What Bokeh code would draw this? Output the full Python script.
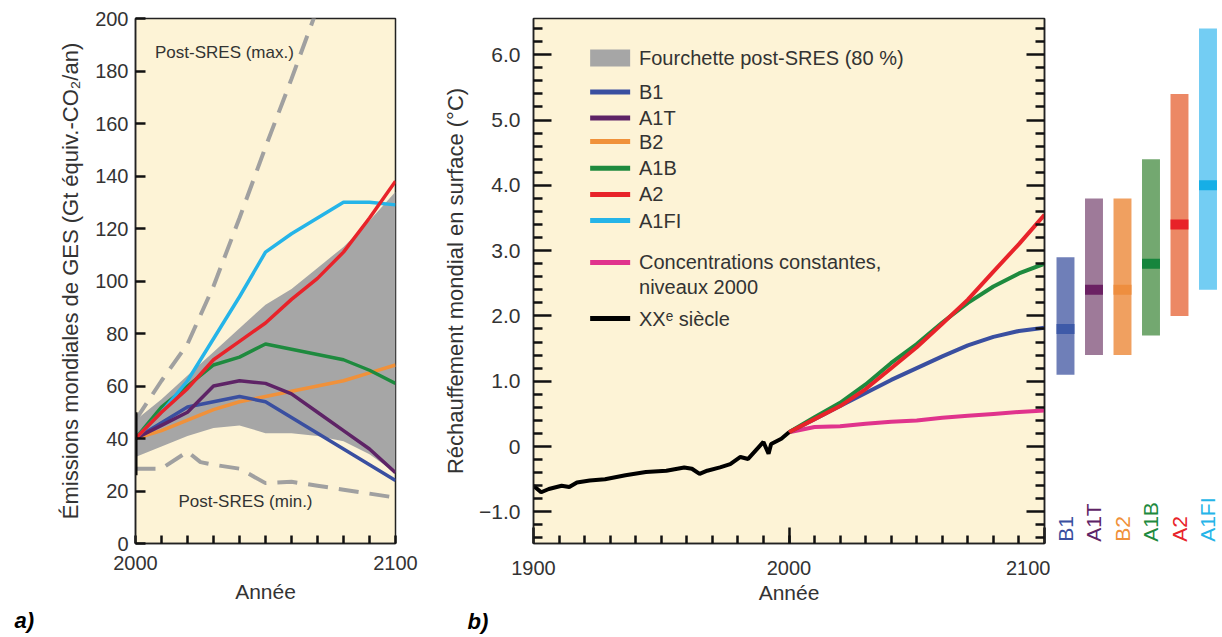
import math
from bokeh.plotting import figure
from bokeh.layouts import row
from bokeh.models import Range1d, FixedTicker, LinearAxis, Title, CustomJSTickFormatter
from bokeh.core.properties import value
from bokeh.embed import file_html
from bokeh.resources import INLINE

CREAM = "#FDF3D6"
FONT = "Liberation Sans"
TXT = "#333333"

# ---------------- panel a: GHG emissions (Gt CO2-eq / yr) ----------------
years_a = [2000, 2010, 2020, 2030, 2040, 2050, 2060, 2070, 2080, 2090, 2100]
emis_b1 = [40, 46, 52, 54, 56, 54, 48, 42, 36, 30, 24]
emis_a1t = [40, 45, 50, 60, 62, 61, 57, 50, 43, 36, 27]
emis_b2 = [40, 43, 47, 51, 54, 56, 58, 60, 62, 65, 68]
emis_a1b = [40, 52, 60, 68, 71, 76, 74, 72, 70, 66, 61]
emis_a2 = [40, 50, 59, 70, 77, 84, 93, 101, 111, 124, 138]
emis_a1fi = [40, 50, 62, 78, 94, 111, 118, 124, 130, 130, 129]
band_lo = [33, 37, 41, 44, 45, 42, 42, 41, 39, 34, 27]
band_hi = [47, 55, 64, 73, 82, 91, 97, 105, 113, 123, 134]

max_years = [2000, 2010, 2020, 2030, 2040, 2050, 2060, 2070]
max_vals = [47, 62, 76, 98, 124, 151, 177, 204]
min_years = [2000, 2010, 2020, 2025, 2030, 2040, 2050, 2060, 2070, 2080, 2090, 2100]
min_vals = [28.5, 28.5, 35, 31, 30, 28.5, 23, 23.5, 22, 20.5, 19, 17.5]
range_2000 = [26, 50]

# ---------------- panel b: surface warming (deg C) ----------------
proj_years = [2000, 2010, 2020, 2030, 2040, 2050, 2060, 2070, 2080, 2090, 2100]
temp_b1 = [0.22, 0.42, 0.62, 0.82, 1.02, 1.20, 1.38, 1.55, 1.68, 1.77, 1.82]
temp_a1b = [0.22, 0.45, 0.67, 0.95, 1.28, 1.57, 1.90, 2.20, 2.45, 2.65, 2.80]
temp_a2 = [0.22, 0.42, 0.62, 0.88, 1.20, 1.52, 1.88, 2.25, 2.68, 3.10, 3.55]
temp_const = [0.22, 0.30, 0.31, 0.35, 0.38, 0.40, 0.44, 0.47, 0.50, 0.53, 0.55]

hist_years = [1900, 1903, 1906, 1911, 1914, 1917, 1922, 1928, 1936, 1944, 1952, 1959,
              1962, 1965, 1968, 1973, 1977, 1981, 1984, 1987, 1990, 1992, 1993, 1997, 2000]
hist_vals = [-0.60, -0.70, -0.65, -0.60, -0.62, -0.55, -0.52, -0.50, -0.44, -0.39, -0.37, -0.32,
             -0.34, -0.42, -0.37, -0.32, -0.27, -0.16, -0.19, -0.06, 0.07, -0.11, 0.04, 0.12, 0.22]

# ---------------- likely ranges at 2090-2099 ----------------
scenarios = ["B1", "A1T", "B2", "A1B", "A2", "A1FI"]
best_est = [1.8, 2.4, 2.4, 2.8, 3.4, 4.0]
range_low = [1.1, 1.4, 1.4, 1.7, 2.0, 2.4]
range_high = [2.9, 3.8, 3.8, 4.4, 5.4, 6.4]

COL = {
    "B1": "#3A4FA0", "A1T": "#5E2366", "B2": "#F0913A",
    "A1B": "#1E8A3E", "A2": "#E8232A", "A1FI": "#25B4E8",
    "const": "#E0338C", "hist": "#000000",
}
BAR_FILL = ["#6F7FB8", "#9E7A99", "#F0A060", "#73A870", "#EC8865", "#73CDF3"]
BAR_MID = ["#3E5AA8", "#6B2163", "#EE8E3F", "#16853D", "#E82228", "#16AEE6"]


def style_axis(ax, size="20px", label_size="21px"):
    ax.axis_line_color = "#222222"
    ax.axis_line_width = 1.5
    ax.major_tick_line_color = "#111111"
    ax.minor_tick_line_color = "#111111"
    ax.major_tick_line_width = 2.5
    ax.minor_tick_line_width = 2.5
    ax.major_tick_out = 0
    ax.minor_tick_out = 0
    ax.major_label_text_font = FONT
    ax.major_label_text_font_size = size
    ax.major_label_text_color = TXT
    ax.axis_label_text_font = FONT
    ax.axis_label_text_font_size = label_size
    ax.axis_label_text_font_style = "normal"
    ax.axis_label_text_color = TXT


def panel_tag(text, offset):
    return Title(text=text, align="left", offset=offset, text_font=FONT,
                 text_font_size="22px", text_font_style="bold italic",
                 text_color="black", standoff=0)


# ================= panel a =================
pa = figure(width=440, height=637, x_range=Range1d(2000, 2100), y_range=Range1d(0, 200),
            output_backend="svg", toolbar_location=None,
            min_border_left=135, min_border_right=45, min_border_top=18, min_border_bottom=92,
            background_fill_color=CREAM, border_fill_color="white",
            outline_line_color="#222222", outline_line_width=1.5)
pa.grid.visible = False

pa.varea(x=years_a, y1=band_lo, y2=band_hi, fill_color="#A6A6A6")
pa.line(max_years, max_vals, line_color="#A0A0A0", line_width=4, line_dash="20 11")
pa.line(min_years, min_vals, line_color="#A0A0A0", line_width=4, line_dash="20 11")

for vals, key in [(emis_b2, "B2"), (emis_b1, "B1"), (emis_a1t, "A1T"),
                  (emis_a1b, "A1B"), (emis_a1fi, "A1FI"), (emis_a2, "A2")]:
    pa.line(years_a, vals, line_color=COL[key], line_width=3.5)

pa.segment(x0=[2000], y0=[range_2000[0]], x1=[2000], y1=[range_2000[1]],
           line_color="black", line_width=4)

pa.text(x=[2007.5], y=[187], text=["Post-SRES (max.)"], text_font=value(FONT),
        text_font_size="17px", text_baseline="middle", text_color=TXT)
pa.text(x=[2016.5], y=[16], text=["Post-SRES (min.)"], text_font=value(FONT),
        text_font_size="17px", text_baseline="middle", text_color=TXT)

xa = pa.xaxis[0]
xa.ticker = FixedTicker(ticks=[2000, 2100], minor_ticks=list(range(2010, 2100, 10)))
style_axis(xa)
xa.major_tick_in = 8
xa.minor_tick_in = 8
xa.major_label_standoff = 12
xa.axis_label = "Année"
xa.axis_label_standoff = 7

ya = pa.yaxis[0]
ya.ticker = FixedTicker(ticks=list(range(0, 201, 20)), minor_ticks=[])
style_axis(ya, label_size="22px")
ya.major_tick_in = 10
ya.major_label_standoff = 7
ya.axis_label = "Émissions mondiales de GES (Gt équiv.-CO₂/an)"
ya.axis_label_standoff = 9

pa.add_layout(panel_tag("a)", -121), "below")

# ================= panel b =================
Y0, Y1 = -1.485, 6.555
pb = figure(width=610, height=637, x_range=Range1d(1900, 2100), y_range=Range1d(Y0, Y1),
            output_backend="svg", toolbar_location=None,
            min_border_left=91, min_border_right=6, min_border_top=18, min_border_bottom=94,
            background_fill_color=CREAM, border_fill_color="white",
            outline_line_color="#222222", outline_line_width=1.5)
pb.grid.visible = False

pb.line(proj_years, temp_const, line_color=COL["const"], line_width=4)
pb.line(proj_years, temp_b1, line_color=COL["B1"], line_width=4)
pb.line(proj_years, temp_a1b, line_color=COL["A1B"], line_width=4)
pb.line(proj_years, temp_a2, line_color=COL["A2"], line_width=4)
pb.line(hist_years, hist_vals, line_color=COL["hist"], line_width=4)

# legend
leg_x, leg_tx = 1930.0, 1941.3
pb.rect(x=[leg_x], y=[5.95], width=40, height=17, width_units="screen", height_units="screen",
        fill_color="#A6A6A6", line_color=None)
leg_keys = ["B1", "A1T", "B2", "A1B", "A2", "A1FI", "const", "hist"]
leg_y = [5.43, 5.03, 4.67, 4.26, 3.86, 3.46, 2.82, 1.96]
pb.rect(x=[leg_x] * len(leg_keys), y=leg_y, width=40, height=5, width_units="screen",
        height_units="screen", fill_color=[COL[k] for k in leg_keys], line_color=None)
leg_text = ["Fourchette post-SRES (80 %)", "B1", "A1T", "B2", "A1B", "A2", "A1FI",
            "Concentrations constantes,", "niveaux 2000", "XXᵉ siècle"]
leg_text_y = [5.95, 5.43, 5.03, 4.67, 4.26, 3.86, 3.46, 2.82, 2.44, 1.96]
pb.text(x=[leg_tx] * len(leg_text), y=leg_text_y, text=leg_text, text_font=value(FONT),
        text_font_size="20px", text_baseline="middle", text_color=TXT)

y_major = [-1, 0, 1, 2, 3, 4, 5, 6]
y_minor = [round(-1.4 + 0.2 * i, 1) for i in range(40) if abs(round(-1.4 + 0.2 * i, 1) % 1) > 1e-6]
y_ticker = FixedTicker(ticks=y_major, minor_ticks=y_minor)

xb = pb.xaxis[0]
xb.ticker = FixedTicker(ticks=[1900, 2000, 2100], minor_ticks=list(range(1910, 2100, 10)))
style_axis(xb)
xb.major_tick_in = 16
xb.minor_tick_in = 8
xb.major_label_standoff = 17
xb.axis_label = "Année"
xb.axis_label_standoff = 3

yb = pb.yaxis[0]
yb.ticker = y_ticker
style_axis(yb, "21px", "22px")
yb.major_tick_in = 18
yb.minor_tick_in = 9
yb.major_label_standoff = 13
yb.major_label_overrides = {-1: "−1.0", 0: "0", 1: "1.0", 2: "2.0", 3: "3.0",
                            4: "4.0", 5: "5.0", 6: "6.0"}
yb.axis_label = "Réchauffement mondial en surface (°C)"
yb.axis_label_standoff = 8

yr = LinearAxis(ticker=y_ticker, formatter=CustomJSTickFormatter(code="return ''"))
style_axis(yr)
yr.major_tick_in = 18
yr.minor_tick_in = 9
yr.major_label_standoff = 0
pb.add_layout(yr, "right")

pb.add_layout(panel_tag("b)", -66), "below")

# ================= panel c: range bars =================
idx = list(range(len(scenarios)))
pc = figure(width=172, height=637, x_range=Range1d(-0.526, 5.509), y_range=Range1d(Y0, Y1),
            output_backend="svg", toolbar_location=None,
            min_border_left=0, min_border_right=0, min_border_top=18, min_border_bottom=94,
            background_fill_color="white", border_fill_color="white",
            outline_line_color=None, x_axis_location=None, y_axis_location=None)
pc.grid.visible = False
pc.vbar(x=idx, bottom=range_low, top=range_high, width=0.63, fill_color=BAR_FILL, line_color=None)
pc.rect(x=idx, y=best_est, width=0.63, height=10, height_units="screen",
        fill_color=BAR_MID, line_color=None)
pc.text(x=idx, y=[-1.46] * len(idx), text=scenarios, angle=math.pi / 2, text_align="left",
        text_baseline="middle", text_font=value(FONT), text_font_size="21px",
        text_color=[COL[s] for s in scenarios])

layout = row(pa, pb, pc)
open("out.html", "w").write(file_html(layout, INLINE))
